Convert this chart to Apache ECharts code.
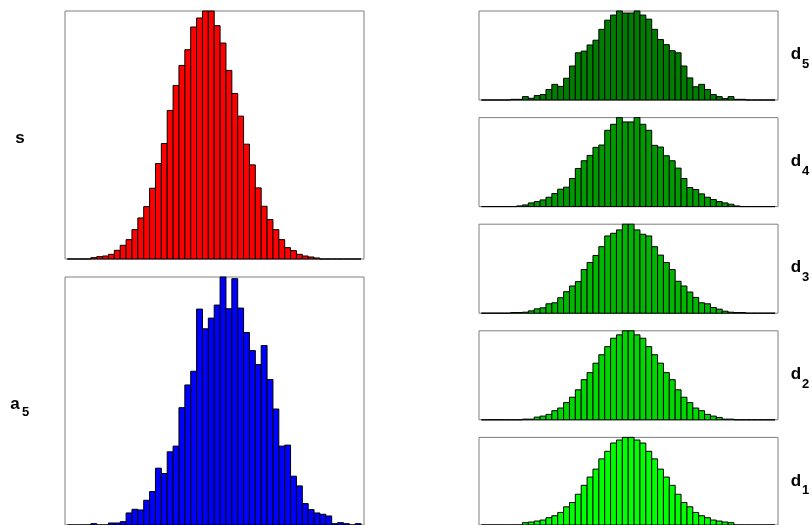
<!DOCTYPE html>
<html>
<head>
<meta charset="utf-8">
<script src="https://cdn.jsdelivr.net/npm/echarts@6/dist/echarts.min.js"></script>
<style>
  html, body { margin: 0; padding: 0; background: #fff; }
  #chart { width: 812px; height: 525px; }
</style>
</head>
<body>
<div id="chart"></div>
<script>
// Common histogram breaks: 50 bins of width 0.2 starting at -5
const binStart = -5;
const binWidth = 0.2;
const binCount = 50;

// Bin counts; each series begins at the bin index given by its *First constant
const sFirst = 4;
const sCounts = [4, 7, 9, 14, 26, 41, 58, 88, 123, 157, 212, 286, 346, 445, 520, 580, 627, 695, 722, 743,
  743, 699, 647, 565, 496, 428, 344, 282, 213, 158, 118, 88, 58, 34, 25, 14, 9, 6, 3];

const a5First = 0;
const a5Counts = [0, 0, 0, 0, 4, 0, 0, 6, 6, 10, 36, 47, 45, 74, 100, 170, 154, 219, 236, 351, 419, 460,
  646, 587, 619, 658, 742, 647, 737, 649, 576, 522, 480, 537, 435, 347, 236, 239, 146, 117, 64, 46,
  36, 32, 27, 4, 7, 4, 0, 4];

const d5First = 5;
const d5Counts = [2, 2, 10, 5, 13, 16, 31, 46, 40, 64, 100, 139, 144, 162, 176, 208, 235, 250, 262, 256,
  256, 262, 250, 238, 208, 178, 163, 145, 139, 100, 65, 39, 46, 31, 16, 10, 4, 10, 2, 2];

const d4First = 6;
const d4Counts = [2, 5, 11, 15, 20, 28, 39, 52, 58, 84, 114, 137, 153, 177, 184, 228, 246, 266, 253,
  253, 266, 246, 228, 183, 178, 152, 137, 115, 84, 57, 51, 38, 28, 21, 15, 11, 7, 2];

const d3First = 5;
const d3Counts = [2, 2, 3, 7, 13, 16, 28, 31, 46, 64, 81, 94, 130, 151, 172, 198, 230, 238, 248, 265,
  265, 248, 235, 230, 198, 173, 151, 130, 95, 81, 63, 47, 31, 28, 17, 12, 6, 3, 2, 2];

const d2First = 7;
const d2Counts = [2, 2, 8, 11, 16, 27, 35, 51, 67, 89, 119, 140, 168, 193, 217, 242, 252, 264, 264,
  252, 242, 217, 193, 168, 140, 119, 89, 67, 51, 35, 27, 16, 11, 7, 2, 2];

const d1First = 7;
const d1Counts = [7, 9, 12, 15, 22, 28, 38, 55, 68, 93, 120, 145, 169, 200, 223, 248, 257, 265, 265,
  257, 248, 223, 200, 169, 145, 120, 93, 68, 55, 38, 28, 22, 15, 12, 9, 7];

// Panel descriptions: label, subscript, counts, first bin, fill colour, box placement
const panels = [
  { name: 's',  sub: '',  counts: sCounts,  first: sFirst,  color: '#ff0000', left: 65,  top: 11,    height: 248, side: 'left' },
  { name: 'a',  sub: '5', counts: a5Counts, first: a5First, color: '#0000ff', left: 65,  top: 277,   height: 248, side: 'left' },
  { name: 'd',  sub: '5', counts: d5Counts, first: d5First, color: '#007c00', left: 479, top: 11,    height: 89,  side: 'right' },
  { name: 'd',  sub: '4', counts: d4Counts, first: d4First, color: '#009a00', left: 479, top: 117.6, height: 89,  side: 'right' },
  { name: 'd',  sub: '3', counts: d3Counts, first: d3First, color: '#00b600', left: 479, top: 224.2, height: 89,  side: 'right' },
  { name: 'd',  sub: '2', counts: d2Counts, first: d2First, color: '#00d600', left: 479, top: 330.8, height: 89,  side: 'right' },
  { name: 'd',  sub: '1', counts: d1Counts, first: d1First, color: '#00ff00', left: 479, top: 437.4, height: 89,  side: 'right' }
];

const boxWidth = 299;
const chart = echarts.init(document.getElementById('chart'), null, { renderer: 'canvas' });

const grids = [], xAxes = [], yAxes = [], series = [], graphics = [];

panels.forEach((p, i) => {
  grids.push({
    left: p.left, top: p.top, width: boxWidth, height: p.height,
    show: true, borderColor: '#7f7f7f', borderWidth: 1, backgroundColor: '#ffffff'
  });
  xAxes.push({
    type: 'value', gridIndex: i,
    min: binStart - 0.08, max: binStart + binCount * binWidth + 0.1,
    show: false
  });
  // Every bin of the common breaks is drawn, empty ones as flat outlines
  const full = [];
  for (let k = 0; k < binCount; k++) {
    const j = k - p.first;
    const c = (j >= 0 && j < p.counts.length) ? p.counts[j] : 0;
    full.push([binStart + k * binWidth, binStart + (k + 1) * binWidth, c]);
  }
  const maxCount = Math.max.apply(null, p.counts);
  yAxes.push({ type: 'value', gridIndex: i, min: 0, max: maxCount, show: false });
  series.push({
    type: 'custom',
    xAxisIndex: i, yAxisIndex: i,
    silent: true,
    clip: false,
    data: full,
    renderItem: (params, api) => {
      const p0 = api.coord([api.value(0), 0]);
      const p1 = api.coord([api.value(1), api.value(2)]);
      return {
        type: 'rect',
        shape: { x: p0[0], y: p1[1], width: p1[0] - p0[0], height: p0[1] - p1[1] },
        style: { fill: p.color, stroke: '#000000', lineWidth: 1 }
      };
    }
  });

  // Panel label with optional subscript
  const cy = p.top + p.height / 2;
  const font = 'bold 17px "Liberation Sans", Arial, sans-serif';
  const subFont = 'bold 13px "Liberation Sans", Arial, sans-serif';
  if (p.side === 'left') {
    const cx = p.sub ? 15 : 20;
    graphics.push({ type: 'text', x: cx, y: cy + 3,
      style: { text: p.name, font: font, fill: '#000', textAlign: 'center', textVerticalAlign: 'middle' } });
    if (p.sub) graphics.push({ type: 'text', x: cx + 10.5, y: cy + 11,
      style: { text: p.sub, font: subFont, fill: '#000', textAlign: 'center', textVerticalAlign: 'middle' } });
  } else {
    graphics.push({ type: 'text', x: 796, y: cy - 1,
      style: { text: p.name, font: font, fill: '#000', textAlign: 'center', textVerticalAlign: 'middle' } });
    graphics.push({ type: 'text', x: 805.5, y: cy + 9,
      style: { text: p.sub, font: subFont, fill: '#000', textAlign: 'center', textVerticalAlign: 'middle' } });
  }
});

chart.setOption({
  animation: false,
  backgroundColor: '#ffffff',
  grid: grids,
  xAxis: xAxes,
  yAxis: yAxes,
  series: series,
  graphic: graphics
});
</script>
</body>
</html>
